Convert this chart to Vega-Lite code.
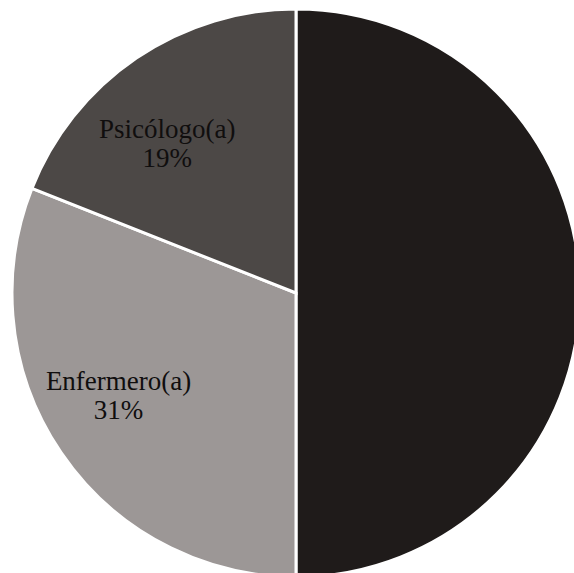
{
  "$schema": "https://vega.github.io/schema/vega-lite/v6.json",
  "autosize": "none",
  "padding": 0,
  "width": 592,
  "height": 586,
  "background": "white",
  "data": {
    "values": [
      {"categoria": "Médico(a)", "porcentaje": 50, "orden": 1},
      {"categoria": "Enfermero(a)", "porcentaje": 31, "orden": 2},
      {"categoria": "Psicólogo(a)", "porcentaje": 19, "orden": 3}
    ]
  },
  "encoding": {
    "theta": {"field": "porcentaje", "type": "quantitative", "stack": true},
    "order": {"field": "orden", "type": "quantitative"}
  },
  "layer": [
    {
      "mark": {"type": "arc", "radius": 284, "stroke": "white", "strokeWidth": 3},
      "encoding": {
        "color": {
          "field": "categoria",
          "type": "nominal",
          "scale": {
            "domain": ["Médico(a)", "Enfermero(a)", "Psicólogo(a)"],
            "range": ["#1f1b1a", "#9c9796", "#4c4846"]
          },
          "legend": null
        }
      }
    },
    {
      "transform": [{"calculate": "datum.categoria == 'Enfermero(a)' ? [datum.categoria, datum.porcentaje + '%'] : ''", "as": "etiqueta"}],
      "mark": {"type": "text", "radius": 200, "dx": -12, "dy": -23, "font": "Liberation Serif", "fontSize": 27, "lineHeight": 29, "color": "#100e0e", "align": "center", "baseline": "middle"},
      "encoding": {"text": {"field": "etiqueta"}}
    },
    {
      "transform": [{"calculate": "datum.categoria == 'Psicólogo(a)' ? [datum.categoria, datum.porcentaje + '%'] : ''", "as": "etiqueta"}],
      "mark": {"type": "text", "radius": 190, "dx": -22, "dy": -6, "font": "Liberation Serif", "fontSize": 27, "lineHeight": 29, "color": "#100e0e", "align": "center", "baseline": "middle"},
      "encoding": {"text": {"field": "etiqueta"}}
    }
  ]
}
